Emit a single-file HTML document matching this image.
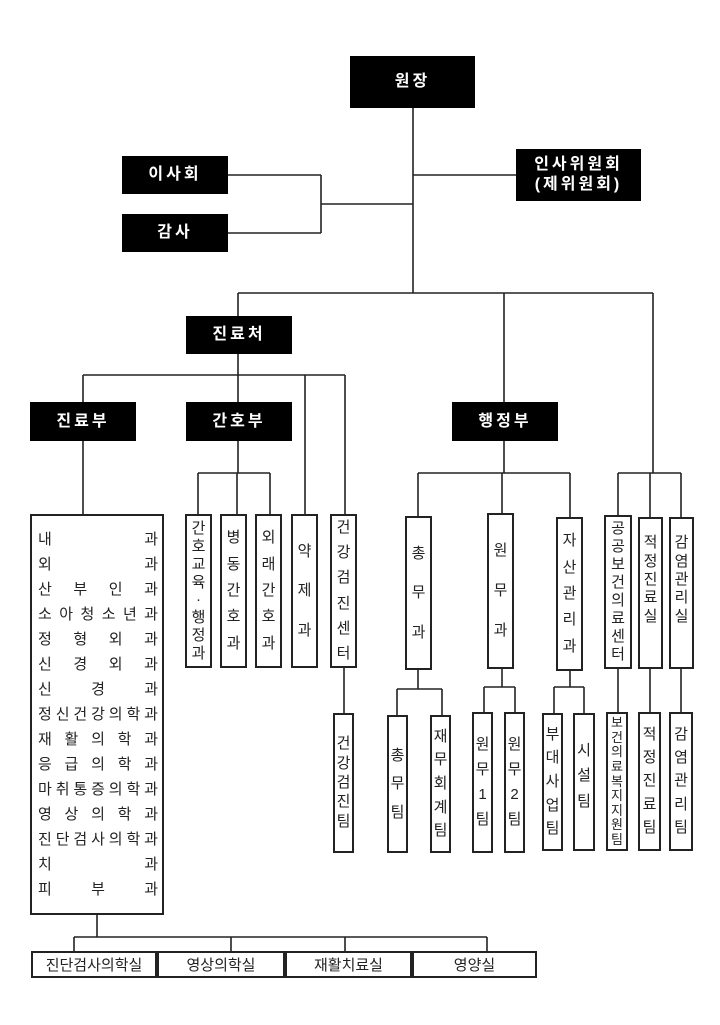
<!DOCTYPE html>
<html><head><meta charset="utf-8"><style>
html,body{margin:0;padding:0;background:#fff;}
body{width:720px;height:1025px;position:relative;overflow:hidden;font-family:"Liberation Sans","Noto Sans CJK KR","NanumGothic",sans-serif;}
.b{position:absolute;background:#000;color:#fff;font-weight:bold;font-size:16px;display:flex;align-items:center;justify-content:center;text-align:center;letter-spacing:3px;line-height:20px;}
.v{position:absolute;border:2px solid #222;box-sizing:border-box;background:#fff;display:flex;flex-direction:column;align-items:center;justify-content:space-evenly;font-size:15px;color:#222;line-height:16px;padding:4px 0;}
.h{position:absolute;border:2px solid #222;box-sizing:border-box;background:#fff;display:flex;align-items:center;justify-content:center;font-size:15px;color:#222;}
.list{position:absolute;left:30px;top:514px;width:134px;height:401px;border:2px solid #222;box-sizing:border-box;background:#fff;padding:14px 4px 0 6px;font-size:15px;color:#222;}
.r{display:flex;justify-content:space-between;height:25px;line-height:20px;}
svg{position:absolute;left:0;top:0;}
</style></head><body>
<svg width="720" height="1025" stroke="#222" stroke-width="1.6" fill="none">
<path d="M413 108V293 M228 175H321 M228 233H321 M321 175V233 M321 204H413 M413 175H516
M238 293H653 M238 293V316 M504 293V402 M653 293V473
M238 354V375 M83 375H345 M83 375V402 M238 375V402 M305 375V514 M345 375V514
M83 441V515 M238 441V473 M198 473H270 M198 473V514 M270 473V514 M237 473V514
M344 667V713
M504 441V473 M418 473H570 M418 473V516 M502 473V513 M570 473V517
M618 473H681 M618 473V515 M650 473V517 M681 473V517
M418 669V689 M397 689H442 M397 689V715 M442 689V715
M502 668V687 M484 687H515 M484 687V712 M515 687V712
M570 670V687 M554 687H584 M554 687V713 M584 687V713
M618 668V712 M650 668V712 M681 668V712
M97 915V937 M74 937H487 M74 937V953 M231 937V953 M345 937V953 M487 937V953"/>
</svg>

<div class="b" style="left:350px;top:56px;width:125px;height:52px;">원장</div>
<div class="b" style="left:122px;top:156px;width:106px;height:38px;">이사회</div>
<div class="b" style="left:122px;top:214px;width:106px;height:38px;">감사</div>
<div class="b" style="left:516px;top:149px;width:125px;height:52px;">인사위원회<br>(제위원회)</div>
<div class="b" style="left:186px;top:316px;width:106px;height:38px;">진료처</div>
<div class="b" style="left:30px;top:402px;width:106px;height:39px;">진료부</div>
<div class="b" style="left:186px;top:402px;width:106px;height:39px;">간호부</div>
<div class="b" style="left:452px;top:402px;width:106px;height:39px;">행정부</div>

<div class="list">
<div class="r"><span>내</span><span>과</span></div>
<div class="r"><span>외</span><span>과</span></div>
<div class="r"><span>산</span><span>부</span><span>인</span><span>과</span></div>
<div class="r"><span>소</span><span>아</span><span>청</span><span>소</span><span>년</span><span>과</span></div>
<div class="r"><span>정</span><span>형</span><span>외</span><span>과</span></div>
<div class="r"><span>신</span><span>경</span><span>외</span><span>과</span></div>
<div class="r"><span>신</span><span>경</span><span>과</span></div>
<div class="r"><span>정</span><span>신</span><span>건</span><span>강</span><span>의</span><span>학</span><span>과</span></div>
<div class="r"><span>재</span><span>활</span><span>의</span><span>학</span><span>과</span></div>
<div class="r"><span>응</span><span>급</span><span>의</span><span>학</span><span>과</span></div>
<div class="r"><span>마</span><span>취</span><span>통</span><span>증</span><span>의</span><span>학</span><span>과</span></div>
<div class="r"><span>영</span><span>상</span><span>의</span><span>학</span><span>과</span></div>
<div class="r"><span>진</span><span>단</span><span>검</span><span>사</span><span>의</span><span>학</span><span>과</span></div>
<div class="r"><span>치</span><span>과</span></div>
<div class="r"><span>피</span><span>부</span><span>과</span></div>
</div>

<div class="v" style="left:185px;top:514px;width:27px;height:154px;justify-content:space-between;line-height:17px;"><span>간</span><span>호</span><span>교</span><span>육</span><span>·</span><span>행</span><span>정</span><span>과</span></div>
<div class="v" style="left:220px;top:514px;width:27px;height:154px;"><span>병</span><span>동</span><span>간</span><span>호</span><span>과</span></div>
<div class="v" style="left:255px;top:514px;width:27px;height:154px;"><span>외</span><span>래</span><span>간</span><span>호</span><span>과</span></div>
<div class="v" style="left:291px;top:514px;width:27px;height:154px;"><span>약</span><span>제</span><span>과</span></div>
<div class="v" style="left:330px;top:514px;width:27px;height:154px;justify-content:space-between;"><span>건</span><span>강</span><span>검</span><span>진</span><span>센</span><span>터</span></div>
<div class="v" style="left:333px;top:713px;width:21px;height:140px;padding:18px 0;"><span>건</span><span>강</span><span>검</span><span>진</span><span>팀</span></div>

<div class="v" style="left:405px;top:516px;width:27px;height:154px;"><span>총</span><span>무</span><span>과</span></div>
<div class="v" style="left:487px;top:513px;width:27px;height:156px;"><span>원</span><span>무</span><span>과</span></div>
<div class="v" style="left:556px;top:517px;width:27px;height:154px;"><span>자</span><span>산</span><span>관</span><span>리</span><span>과</span></div>
<div class="v" style="left:604px;top:515px;width:28px;height:154px;justify-content:space-between;"><span>공</span><span>공</span><span>보</span><span>건</span><span>의</span><span>료</span><span>센</span><span>터</span></div>
<div class="v" style="left:638px;top:517px;width:25px;height:152px;padding:14px 0 40px;"><span>적</span><span>정</span><span>진</span><span>료</span><span>실</span></div>
<div class="v" style="left:669px;top:517px;width:25px;height:152px;padding:14px 0 40px;"><span>감</span><span>염</span><span>관</span><span>리</span><span>실</span></div>

<div class="v" style="left:387px;top:715px;width:21px;height:138px;padding:18px 0;"><span>총</span><span>무</span><span>팀</span></div>
<div class="v" style="left:430px;top:715px;width:21px;height:138px;padding:4px 0;"><span>재</span><span>무</span><span>회</span><span>계</span><span>팀</span></div>
<div class="v" style="left:472px;top:712px;width:21px;height:141px;padding:14px 0;"><span>원</span><span>무</span><span>1</span><span>팀</span></div>
<div class="v" style="left:504px;top:712px;width:21px;height:141px;padding:14px 0;"><span>원</span><span>무</span><span>2</span><span>팀</span></div>
<div class="v" style="left:542px;top:713px;width:21px;height:138px;padding:4px 0;"><span>부</span><span>대</span><span>사</span><span>업</span><span>팀</span></div>
<div class="v" style="left:573px;top:713px;width:22px;height:138px;padding:18px 0 30px;"><span>시</span><span>설</span><span>팀</span></div>
<div class="v" style="left:606px;top:712px;width:22px;height:139px;justify-content:space-between;font-size:13px;line-height:14px;padding:2px 0;"><span>보</span><span>건</span><span>의</span><span>료</span><span>복</span><span>지</span><span>지</span><span>원</span><span>팀</span></div>
<div class="v" style="left:638px;top:712px;width:23px;height:139px;padding:6px 0;"><span>적</span><span>정</span><span>진</span><span>료</span><span>팀</span></div>
<div class="v" style="left:669px;top:712px;width:24px;height:139px;padding:6px 0;"><span>감</span><span>염</span><span>관</span><span>리</span><span>팀</span></div>

<div class="h" style="left:31px;top:951px;width:126px;height:27px;">진단검사의학실</div>
<div class="h" style="left:157px;top:951px;width:128px;height:27px;">영상의학실</div>
<div class="h" style="left:285px;top:951px;width:127px;height:27px;">재활치료실</div>
<div class="h" style="left:412px;top:951px;width:125px;height:27px;">영양실</div>
</body></html>
